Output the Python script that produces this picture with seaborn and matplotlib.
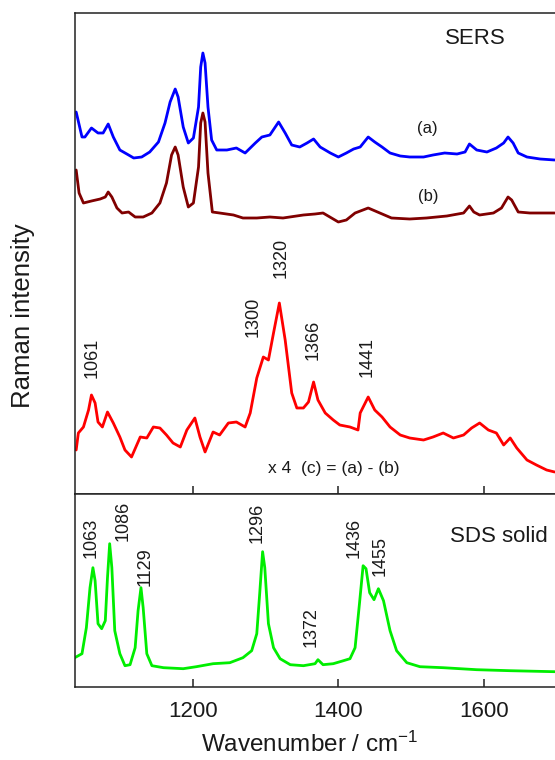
import matplotlib
matplotlib.use("Agg")
import matplotlib.pyplot as plt
import seaborn as sns
import pandas as pd

# ---- spectra (wavenumber / cm-1, intensity in arbitrary units, offsets included) ----
wn_a = [1040, 1048, 1052, 1061, 1070, 1077, 1084, 1091, 1100, 1112, 1119, 1130, 1141,
        1153, 1162, 1169, 1176, 1180, 1187, 1194, 1201, 1208, 1211, 1214, 1217, 1221,
        1226, 1233, 1247, 1260, 1272, 1286, 1295, 1306, 1318, 1327, 1336, 1347, 1357,
        1366, 1375, 1389, 1400, 1411, 1421, 1430, 1441, 1450, 1460, 1471, 1485, 1498,
        1517, 1530, 1546, 1563, 1574, 1580, 1585, 1590, 1604, 1617, 1627, 1633, 1640,
        1647, 1659, 1677, 1697]
int_a = [382, 357, 357, 366, 361, 361, 370, 357, 344, 339, 336, 337, 342,
         352, 371, 392, 405, 397, 367, 351, 356, 387, 427, 441, 431, 387,
         354, 344, 344, 346, 341, 351, 357, 359, 372, 361, 349, 347, 351,
         355, 347, 341, 337, 341, 345, 347, 357, 352, 347, 341, 338, 337,
         337, 339, 341, 340, 342, 350, 347, 344, 342, 346, 351, 357, 351,
         341, 337, 335, 334]

wn_b = [1040, 1044, 1050, 1061, 1073, 1080, 1084, 1089, 1096, 1103, 1112, 1121, 1132,
        1144, 1155, 1164, 1171, 1176, 1180, 1187, 1194, 1201, 1208, 1211, 1214, 1217,
        1221, 1227, 1237, 1256, 1269, 1288, 1306, 1324, 1352, 1368, 1379, 1400, 1411,
        1423, 1441, 1457, 1473, 1498, 1521, 1549, 1572, 1580, 1586, 1594, 1613, 1624,
        1633, 1638, 1647, 1663, 1681, 1697]
int_b = [324, 301, 291, 293, 295, 297, 302, 297, 286, 281, 282, 277, 277,
         281, 291, 311, 339, 347, 339, 307, 287, 291, 327, 371, 381, 372,
         321, 282, 281, 279, 276, 276, 277, 276, 279, 280, 281, 272, 274,
         281, 286, 281, 276, 275, 276, 278, 281, 288, 282, 279, 281, 286,
         297, 294, 282, 281, 281, 281]

# difference spectrum (c) = (a) - (b), scaled x4
wn_c = [1040, 1043, 1050, 1057, 1061, 1066, 1070, 1076, 1083, 1091, 1100, 1107, 1116,
        1128, 1137, 1146, 1155, 1164, 1173, 1183, 1192, 1203, 1210, 1217, 1228, 1237,
        1249, 1260, 1272, 1279, 1288, 1297, 1304, 1311, 1319, 1327, 1336, 1343, 1352,
        1359, 1366, 1372, 1382, 1393, 1402, 1416, 1427, 1430, 1441, 1450, 1460, 1471,
        1485, 1498, 1517, 1530, 1544, 1558, 1572, 1583, 1594, 1606, 1617, 1627, 1636,
        1645, 1659, 1672, 1686, 1697]
int_c = [44, 61, 67, 84, 99, 91, 72, 67, 82, 71, 57, 44, 37,
         57, 56, 67, 66, 59, 51, 47, 64, 76, 57, 42, 62, 59,
         71, 72, 67, 81, 116, 137, 134, 161, 191, 154, 101, 86, 86,
         92, 112, 94, 81, 74, 69, 67, 64, 81, 97, 84, 77, 67,
         59, 56, 54, 57, 61, 56, 59, 66, 71, 64, 61, 49, 56,
         46, 34, 29, 24, 22]

# SDS solid reference spectrum
wn_sds = [1038, 1048, 1054, 1059, 1063, 1066, 1070, 1075, 1080, 1083, 1086, 1089, 1093,
          1100, 1107, 1114, 1121, 1125, 1129, 1132, 1137, 1144, 1160, 1187, 1205, 1228,
          1251, 1269, 1281, 1288, 1292, 1296, 1299, 1304, 1311, 1320, 1334, 1352, 1368,
          1372, 1379, 1393, 1407, 1416, 1423, 1429, 1434, 1438, 1443, 1449, 1455, 1462,
          1471, 1480, 1494, 1512, 1544, 1590, 1636, 1697]
int_sds = [29, 33, 59, 99, 119, 106, 63, 58, 66, 109, 143, 119, 56,
           33, 21, 22, 39, 76, 99, 79, 33, 21, 19, 18, 20, 23,
           24, 29, 36, 53, 93, 135, 119, 63, 39, 28, 22, 21, 23,
           27, 22, 23, 26, 28, 39, 83, 121, 118, 94, 87, 98, 86,
           56, 36, 24, 20, 19, 17, 16, 15]

# peak labels: (text, wavenumber, intensity of label foot)
peaks_c = [("1061", 1062, 116), ("1300", 1283, 157), ("1320", 1322, 216),
           ("1366", 1366, 134), ("1441", 1440, 117)]
peaks_sds = [("1063", 1061, 129), ("1086", 1104, 146), ("1129", 1135, 101),
             ("1296", 1289, 144), ("1372", 1363, 40), ("1436", 1421, 129),
             ("1455", 1458, 111)]

x_ticks = [1200, 1400, 1600]
x_lim = (1038.4, 1697.5)

sns.set_theme(style="ticks")
plt.rcParams["font.family"] = ["Liberation Sans", "DejaVu Sans"]
plt.rcParams["mathtext.fontset"] = "custom"
plt.rcParams["mathtext.rm"] = "Liberation Sans"
plt.rcParams["mathtext.default"] = "regular"

W, H = 555, 760
fig = plt.figure(figsize=(W / 100, H / 100), dpi=100)

def frac_box(left, top, right, bottom):
    return [left / W, 1 - bottom / H, (right - left) / W, (bottom - top) / H]

ax_top = fig.add_axes(frac_box(75, 12.7, 555, 494))
ax_bot = fig.add_axes(frac_box(75, 494, 555, 686.7))

txt_color = "#1a1a1a"
lw = 2.0

def spectrum(ax, wn, inten, color):
    df = pd.DataFrame({"wavenumber": wn, "intensity": inten})
    sns.lineplot(data=df, x="wavenumber", y="intensity", ax=ax, color=color,
                 lw=lw, estimator=None, sort=False)

spectrum(ax_top, wn_a, int_a, "#0000ff")
spectrum(ax_top, wn_b, int_b, "#800000")
spectrum(ax_top, wn_c, int_c, "#ff0000")
spectrum(ax_bot, wn_sds, int_sds, "#00ee00")

ax_top.set_ylim(0, 481.3)
ax_bot.set_ylim(0, 192.7)

for ax in (ax_top, ax_bot):
    ax.set_xlim(*x_lim)
    ax.set_xticks(x_ticks)
    ax.set_yticks([])
    ax.set_xlabel("")
    ax.set_ylabel("")
    ax.spines["right"].set_visible(False)
    for s in ("left", "top", "bottom"):
        ax.spines[s].set_linewidth(1.1)
        ax.spines[s].set_color("#222222")
    ax.tick_params(axis="x", direction="in", length=6, width=1.1, color="#222222")

ax_top.tick_params(axis="x", labelbottom=False)
ax_bot.tick_params(axis="x", labelsize=16, pad=10, labelcolor=txt_color)

for label, x, y in peaks_c:
    ax_top.text(x, y, label, rotation=90, ha="center", va="bottom",
                fontsize=13, color=txt_color)
for label, x, y in peaks_sds:
    ax_bot.text(x, y, label, rotation=90, ha="center", va="bottom",
                fontsize=13, color=txt_color)

def px_text(x, y, s, **kw):
    fig.text(x / W, 1 - y / H, s, color=txt_color, **kw)

px_text(445, 39, "SERS", fontsize=16, ha="left", va="center")
px_text(427, 128, "(a)", fontsize=12, ha="center", va="center")
px_text(428, 196, "(b)", fontsize=12, ha="center", va="center")
px_text(334, 468, "x 4  (c) = (a) - (b)", fontsize=12.5, ha="center", va="center")
px_text(450, 536, "SDS solid", fontsize=16, ha="left", va="center")

px_text(310, 752, "Wavenumber / cm$^{-1}$", fontsize=17.5, ha="center", va="baseline")
px_text(23, 316, "Raman intensity", fontsize=18.5, ha="center", va="center", rotation=90)

fig.savefig("out.png", dpi=100)
